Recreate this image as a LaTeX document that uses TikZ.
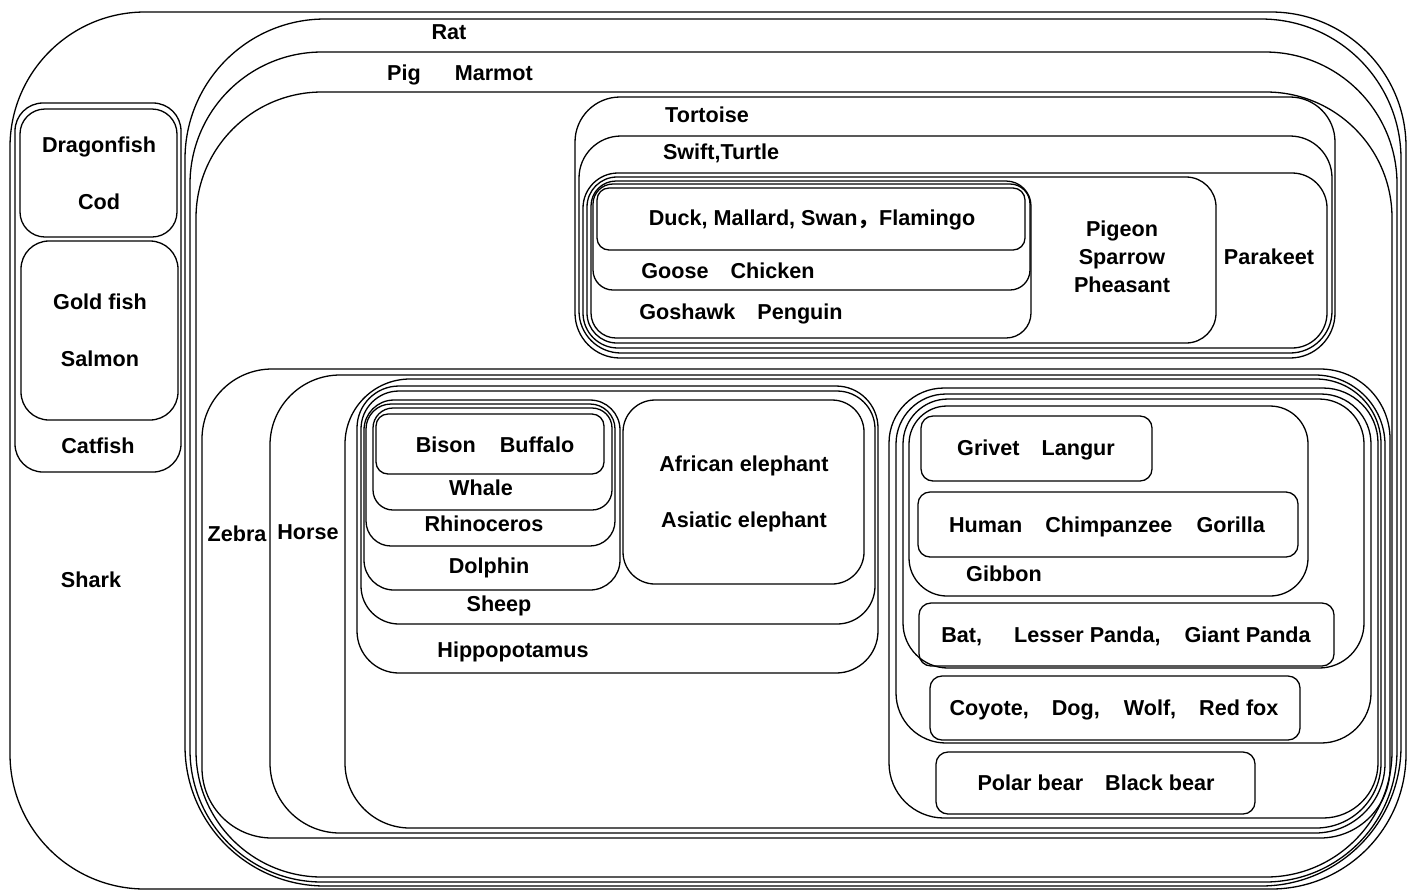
\documentclass[tikz,border=0pt]{standalone}
\usepackage{fontspec}
\setmainfont{Liberation Sans}
\newfontfamily\cjk{Noto Sans CJK SC}
% rounded group outline: x1,y1,x2,y2 (px), corner radius (pt)
\newcommand\grp[5]{\draw[rounded corners=#5pt] (#1,#2) rectangle (#3,#4);}
\begin{document}
\begin{tikzpicture}[x=0.5pt,y=-0.5pt,line width=0.65pt,
  lbl/.style={inner sep=0pt,text height=7.75pt,text depth=0pt,
              font=\fontsize{10.8}{13}\selectfont\bfseries}]
\useasboundingbox (0,0) rectangle (1411,890);

% outermost groups
\grp{10}{12}{1406}{889}{67.5}
\grp{185}{19}{1401}{886}{70}
\grp{190}{52}{1397}{882}{66}
\grp{196}{92}{1392}{877}{63}

% fish
\grp{15}{103}{181}{472}{14}
\grp{20}{109}{177}{237}{12.5}
\grp{21}{241}{178}{420}{14}

% birds and reptiles
\grp{575}{97}{1335}{358}{22.5}
\grp{579}{136}{1332}{353}{21}
\grp{583}{173}{1327}{348}{17.5}
\grp{587}{177}{1216}{343}{15}
\grp{591}{181}{1031}{338}{12.5}
\grp{593}{184}{1030}{290}{10}
\grp{597}{188}{1025}{250}{6}

% mammals
\grp{202}{369}{1390}{838}{35}
\grp{270}{375}{1385}{833}{35}
\grp{345}{379}{1381}{828}{32.5}
\grp{357}{386}{878}{673}{21}
\grp{361}{391}{875}{624}{19}
\grp{364}{400}{620}{590}{15}
\grp{366}{404}{615}{546}{12.5}
\grp{373}{408}{612}{510}{10}
\grp{376}{414}{604}{474}{6}
\grp{623}{400}{864}{584}{16}

\grp{889}{388}{1378}{818}{27.5}
\grp{896}{394}{1371}{743}{25}
\grp{903}{399}{1364}{668}{22.5}
\grp{909}{406}{1308}{596}{19}
\grp{921}{416}{1152}{481}{6}
\grp{918}{492}{1298}{557}{6}
\grp{919}{603}{1334}{666}{6}
\grp{930}{676}{1300}{740}{6}
\grp{936}{752}{1255}{814}{6}

% labels
\node[lbl] (rat) at (449,32) {Rat};
\node[lbl] (pig) at (460,73) {Pig\hspace{17pt}Marmot};
\node[lbl] (tortoise) at (707,115) {Tortoise};
\node[lbl] (swift) at (721,152) {Swift,Turtle};
\node[lbl] (duck) at (812,218) {Duck, Mallard, Swan{\cjk ，}Flamingo};
\node[lbl] (goose) at (728,271) {Goose\hspace{11pt}Chicken};
\node[lbl] (goshawk) at (741,312) {Goshawk\hspace{11pt}Penguin};
\node[lbl] (pigeon) at (1122,229) {Pigeon};
\node[lbl] (sparrow) at (1122,257) {Sparrow};
\node[lbl] (pheasant) at (1122,285) {Pheasant};
\node[lbl] (parakeet) at (1269,257) {Parakeet};

\node[lbl] (dragonfish) at (99,145) {Dragonfish};
\node[lbl] (cod) at (99,202) {Cod};
\node[lbl] (goldfish) at (100,302) {Gold fish};
\node[lbl] (salmon) at (100,359) {Salmon};
\node[lbl] (catfish) at (98,446) {Catfish};
\node[lbl] (shark) at (91,580) {Shark};

\node[lbl] (zebra) at (237,534) {Zebra};
\node[lbl] (horse) at (308,532) {Horse};
\node[lbl] (bison) at (495,445) {Bison\hspace{12pt}Buffalo};
\node[lbl] (whale) at (481,488) {Whale};
\node[lbl] (rhino) at (484,524) {Rhinoceros};
\node[lbl] (dolphin) at (489,566) {Dolphin};
\node[lbl] (sheep) at (499,604) {Sheep};
\node[lbl] (hippo) at (513,650) {Hippopotamus};
\node[lbl] (afel) at (744,464) {African elephant};
\node[lbl] (asel) at (744,520) {Asiatic elephant};

\node[lbl] (grivet) at (1036,448) {Grivet\hspace{11pt}Langur};
\node[lbl] (human) at (1107,525) {Human\hspace{11.5pt}Chimpanzee\hspace{12pt}Gorilla};
\node[lbl] (gibbon) at (1004,574) {Gibbon};
\node[lbl] (bat) at (1126,635) {Bat,\hspace{16pt}Lesser Panda,\hspace{12pt}Giant Panda};
\node[lbl] (coyote) at (1114,708) {Coyote,\hspace{11.5pt}Dog,\hspace{12pt}Wolf,\hspace{11.5pt}Red fox};
\node[lbl] (bear) at (1096,783) {Polar bear\hspace{11pt}Black bear};
\end{tikzpicture}
\end{document}
